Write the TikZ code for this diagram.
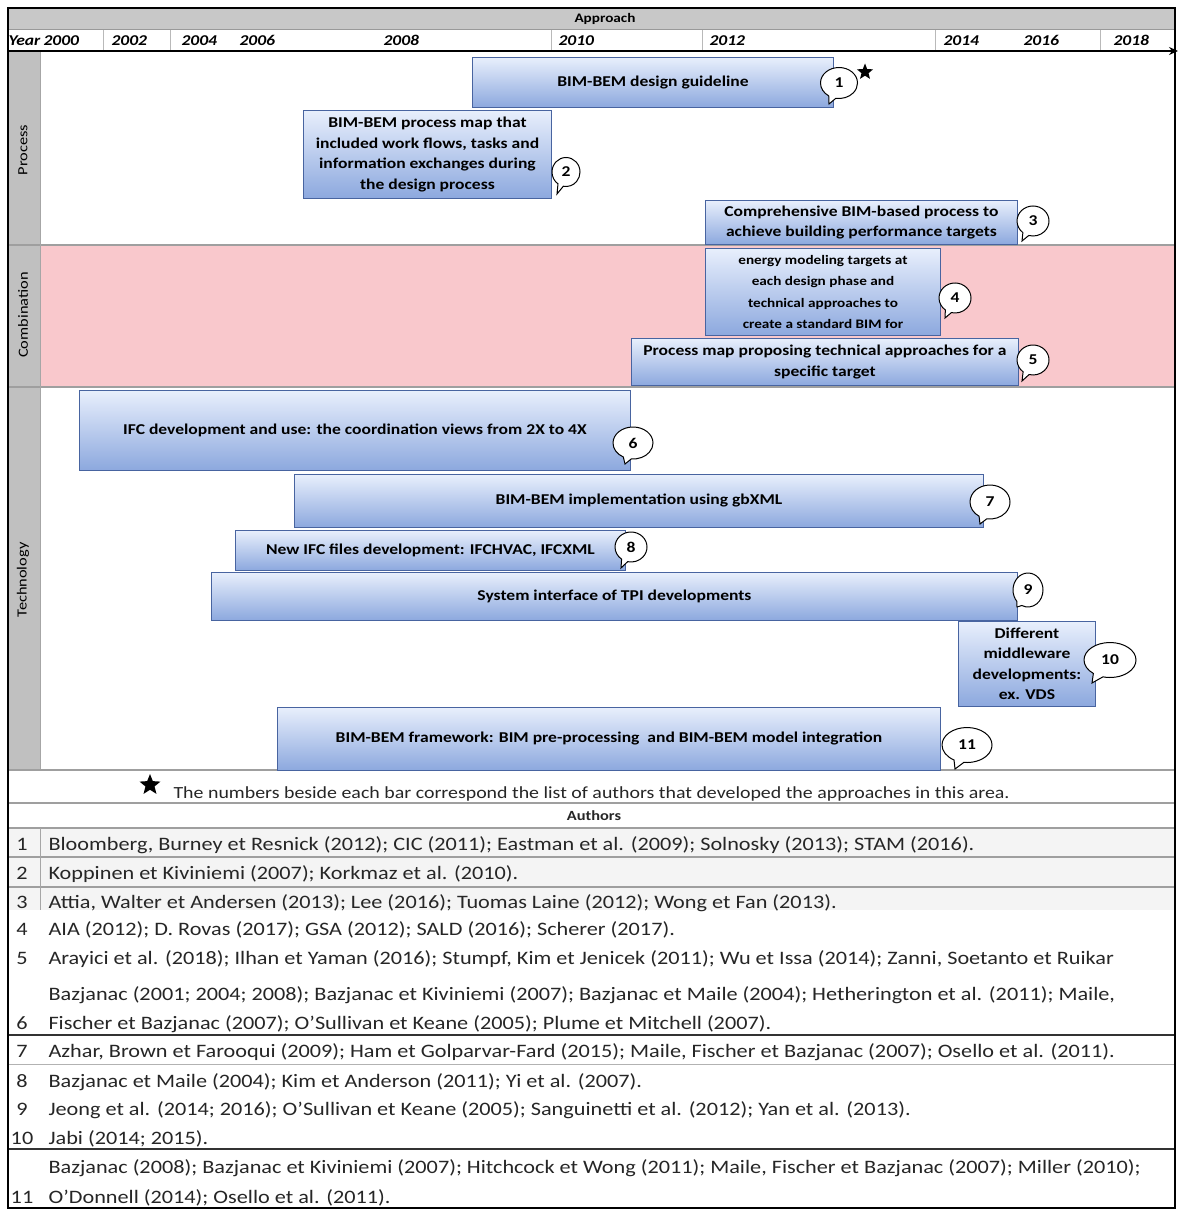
\documentclass[tikz,border=0pt]{standalone}
\usepackage{fontspec}
\setmainfont{Carlito}[FakeStretch=1.17]
\usetikzlibrary{shapes.callouts,shapes.geometric,arrows.meta}
\definecolor{barfill}{RGB}{140,168,222}
\definecolor{bartop}{RGB}{232,239,252}
\definecolor{barline}{RGB}{72,100,160}
\definecolor{combo}{RGB}{249,200,204}
\definecolor{labelgray}{RGB}{192,192,192}
\definecolor{headgray}{RGB}{200,200,200}
\begin{document}
\begin{tikzpicture}[x=1pt,y=-1pt,
  bar/.style={draw=barline, line width=0.9pt, top color=bartop, bottom color=barfill,
    inner sep=2pt, align=center, anchor=north west,
    font=\fontsize{15}{20.5}\selectfont\bfseries},
  num/.style={ellipse callout, draw=black, fill=white, line width=1pt, inner sep=0pt,
    callout pointer arc=24, font=\fontsize{15}{15}\selectfont\bfseries},
  yr/.style={anchor=base west, font=\fontsize{15}{15}\selectfont\bfseries\itshape},
  lbl/.style={rotate=90, font=\fontsize{14}{14}\selectfont},
  rn/.style={anchor=base, font=\fontsize{19}{19}\selectfont, text=black!85},
  rt/.style={anchor=base west, font=\fontsize{19}{19}\selectfont, text=black!85},
  starshape/.style={star, star points=5, star point ratio=2.3, fill=black, inner sep=0pt}]
\useasboundingbox (0,0) rectangle (1178,1209);
\fill[white] (0,0) rectangle (1178,1209);
% bands
\fill[headgray] (8,8) rectangle (1175,30);
\fill[combo] (40,245) rectangle (1175,387);
\fill[labelgray] (8,51) rectangle (40,770);
\fill[gray!9] (8,828) rectangle (1175,910);
% grid lines
\draw[gray!80, line width=1pt] (8,30) -- (1175,30);
\foreach \xx in {103,170,551,702,935,1100} \draw[gray!55, line width=0.8pt] (\xx,30) -- (\xx,50);
\draw[gray!75, line width=1.6pt] (8,245) -- (1175,245);
\draw[gray!75, line width=1.6pt] (8,387) -- (1175,387);
\draw[gray!70, line width=0.8pt] (40,51) -- (40,770);
\draw[gray!75, line width=2pt] (8,770) -- (1175,770);
\draw[gray!75, line width=1.6pt] (8,803) -- (1175,803);
\draw[gray!75, line width=1.6pt] (8,828) -- (1175,828);
\draw[gray!75, line width=1.6pt] (8,857) -- (1175,857);
\draw[gray!75, line width=1.6pt] (8,887) -- (1175,887);
\draw[gray!70, line width=0.8pt] (40,828) -- (40,910);
\draw[black!80, line width=1.3pt] (8,1035) -- (1175,1035);
\draw[gray!60, line width=1pt] (8,1064) -- (1175,1064);
\draw[black!80, line width=1.3pt] (8,1149) -- (1175,1149);
\draw[black, line width=1.3pt] (8,8) rectangle (1175,1208);
% axis
\coordinate (axL) at (8,51);
\coordinate (axR) at (1178,51);
\draw[line width=1.6pt, -{Stealth[length=9pt,width=8pt]}] (axL) -- (axR);
% header texts
\node[font=\fontsize{13}{13}\selectfont\bfseries] (appr) at (605,19) {Approach};
\node[yr] (yyear) at (5,46) {Year};
\node[yr] (y2000) at (40,46) {2000};
\node[yr] (y2002) at (108,46) {2002};
\node[yr] (y2004) at (178,46) {2004};
\node[yr] (y2006) at (236,46) {2006};
\node[yr] (y2008) at (380,46) {2008};
\node[yr] (y2010) at (555,46) {2010};
\node[yr] (y2012) at (706,46) {2012};
\node[yr] (y2014) at (940,46) {2014};
\node[yr] (y2016) at (1020,46) {2016};
\node[yr] (y2018) at (1110,46) {2018};
% row labels
\node[lbl] (lproc) at (23,150) {Process};
\node[lbl] (lcomb) at (23,315) {Combination};
\node[lbl] (ltech) at (23,580) {Technology};
% bars
\node[bar, minimum width=361, minimum height=50] (b1) at (472,57) {BIM-BEM design guideline};
\node[bar, minimum width=248, minimum height=88] (b2) at (303,110) {BIM-BEM process map that\\included work flows, tasks and\\information exchanges during\\the design process};
\node[bar, minimum width=312, minimum height=44] (b3) at (705,200) {Comprehensive BIM-based process to\\achieve building performance targets};
\node[bar, minimum width=235, minimum height=87, font=\fontsize{13}{21.5}\selectfont\bfseries] (b4) at (705,248) {energy modeling targets at\\each design phase and\\technical approaches to\\create a standard BIM for};
\node[bar, minimum width=387, minimum height=47] (b5) at (631,338) {Process map proposing technical approaches for a\\specific target};
\node[bar, minimum width=551, minimum height=80] (b6) at (79,390) {IFC development and use: the coordination views from 2X to 4X};
\node[bar, minimum width=689, minimum height=53] (b7) at (294,474) {BIM-BEM implementation using gbXML};
\node[bar, minimum width=390, minimum height=40] (b8) at (235,530) {New IFC files development: IFCHVAC, IFCXML};
\node[bar, minimum width=806, minimum height=48] (b9) at (211,572) {System interface of TPI developments};
\node[bar, minimum width=137, minimum height=85] (b10) at (958,621) {Different\\middleware\\developments:\\ex. VDS};
\node[bar, minimum width=663, minimum height=63] (b11) at (277,707) {BIM-BEM framework: BIM pre-processing\ \ and BIM-BEM model integration};
% callouts
\node[num, minimum width=37, minimum height=31, callout absolute pointer={(829,104)}] (c1) at (839,83) {1};
\node[starshape, minimum size=17] (s1) at (865,72) {};
\node[num, minimum width=28, minimum height=29, callout absolute pointer={(557,194)}] (c2) at (566,172) {2};
\node[num, minimum width=32, minimum height=30, callout absolute pointer={(1022,241)}] (c3) at (1033,221) {3};
\node[num, minimum width=32, minimum height=30, callout absolute pointer={(945,318)}] (c4) at (955,298) {4};
\node[num, minimum width=32, minimum height=30, callout absolute pointer={(1022,381)}] (c5) at (1033,360) {5};
\node[num, minimum width=40, minimum height=32, callout absolute pointer={(625,464)}] (c6) at (633,443) {6};
\node[num, minimum width=40, minimum height=34, callout absolute pointer={(980,524)}] (c7) at (990,502) {7};
\node[num, minimum width=32, minimum height=30, callout absolute pointer={(621,568)}] (c8) at (631,547) {8};
\node[num, minimum width=30, minimum height=34, callout absolute pointer={(1017,607)}] (c9) at (1028,590) {9};
\node[num, minimum width=52, minimum height=35, callout absolute pointer={(1092,683)}] (c10) at (1110,660) {10};
\node[num, minimum width=50, minimum height=35, callout absolute pointer={(955,769)}] (c11) at (967,745) {11};
% legend
\node[starshape, minimum size=22] (s2) at (150,785) {};
\node[anchor=base west, font=\fontsize{17}{17}\selectfont, text=black!85] (leg) at (170,798) {The numbers beside each bar correspond the list of authors that developed the approaches in this area.};
\node[font=\fontsize{14}{14}\selectfont\bfseries, text=black!85] (auth) at (594,816) {Authors};
% table
\node[rn] (n1) at (22,850) {1};
\node[rt] (r1) at (45,850) {Bloomberg, Burney et Resnick (2012); CIC (2011); Eastman et al. (2009); Solnosky (2013); STAM (2016).};
\node[rn] (n2) at (22,879) {2};
\node[rt] (r2) at (45,879) {Koppinen et Kiviniemi (2007); Korkmaz et al. (2010).};
\node[rn] (n3) at (22,908) {3};
\node[rt] (r3) at (45,908) {Attia, Walter et Andersen (2013); Lee (2016); Tuomas Laine (2012); Wong et Fan (2013).};
\node[rn] (n4) at (22,935) {4};
\node[rt] (r4) at (45,935) {AIA (2012); D. Rovas (2017); GSA (2012); SALD (2016); Scherer (2017).};
\node[rn] (n5) at (22,964) {5};
\node[rt] (r5) at (45,964) {Arayici et al. (2018); Ilhan et Yaman (2016); Stumpf, Kim et Jenicek (2011); Wu et Issa (2014); Zanni, Soetanto et Ruikar};
\node[rt] (r6a) at (45,1000) {Bazjanac (2001; 2004; 2008); Bazjanac et Kiviniemi (2007); Bazjanac et Maile (2004); Hetherington et al. (2011); Maile,};
\node[rn] (n6) at (22,1029) {6};
\node[rt] (r6b) at (45,1029) {Fischer et Bazjanac (2007); O'Sullivan et Keane (2005); Plume et Mitchell (2007).};
\node[rn] (n7) at (22,1057) {7};
\node[rt] (r7) at (45,1057) {Azhar, Brown et Farooqui (2009); Ham et Golparvar-Fard (2015); Maile, Fischer et Bazjanac (2007); Osello et al. (2011).};
\node[rn] (n8) at (22,1087) {8};
\node[rt] (r8) at (45,1087) {Bazjanac et Maile (2004); Kim et Anderson (2011); Yi et al. (2007).};
\node[rn] (n9) at (22,1115) {9};
\node[rt] (r9) at (45,1115) {Jeong et al. (2014; 2016); O'Sullivan et Keane (2005); Sanguinetti et al. (2012); Yan et al. (2013).};
\node[rn] (n10) at (22,1144) {10};
\node[rt] (r10) at (45,1144) {Jabi (2014; 2015).};
\node[rt] (r11a) at (45,1173) {Bazjanac (2008); Bazjanac et Kiviniemi (2007); Hitchcock et Wong (2011); Maile, Fischer et Bazjanac (2007); Miller (2010);};
\node[rn] (n11) at (22,1203) {11};
\node[rt] (r11b) at (45,1203) {O'Donnell (2014); Osello et al. (2011).};
\end{tikzpicture}
\end{document}
